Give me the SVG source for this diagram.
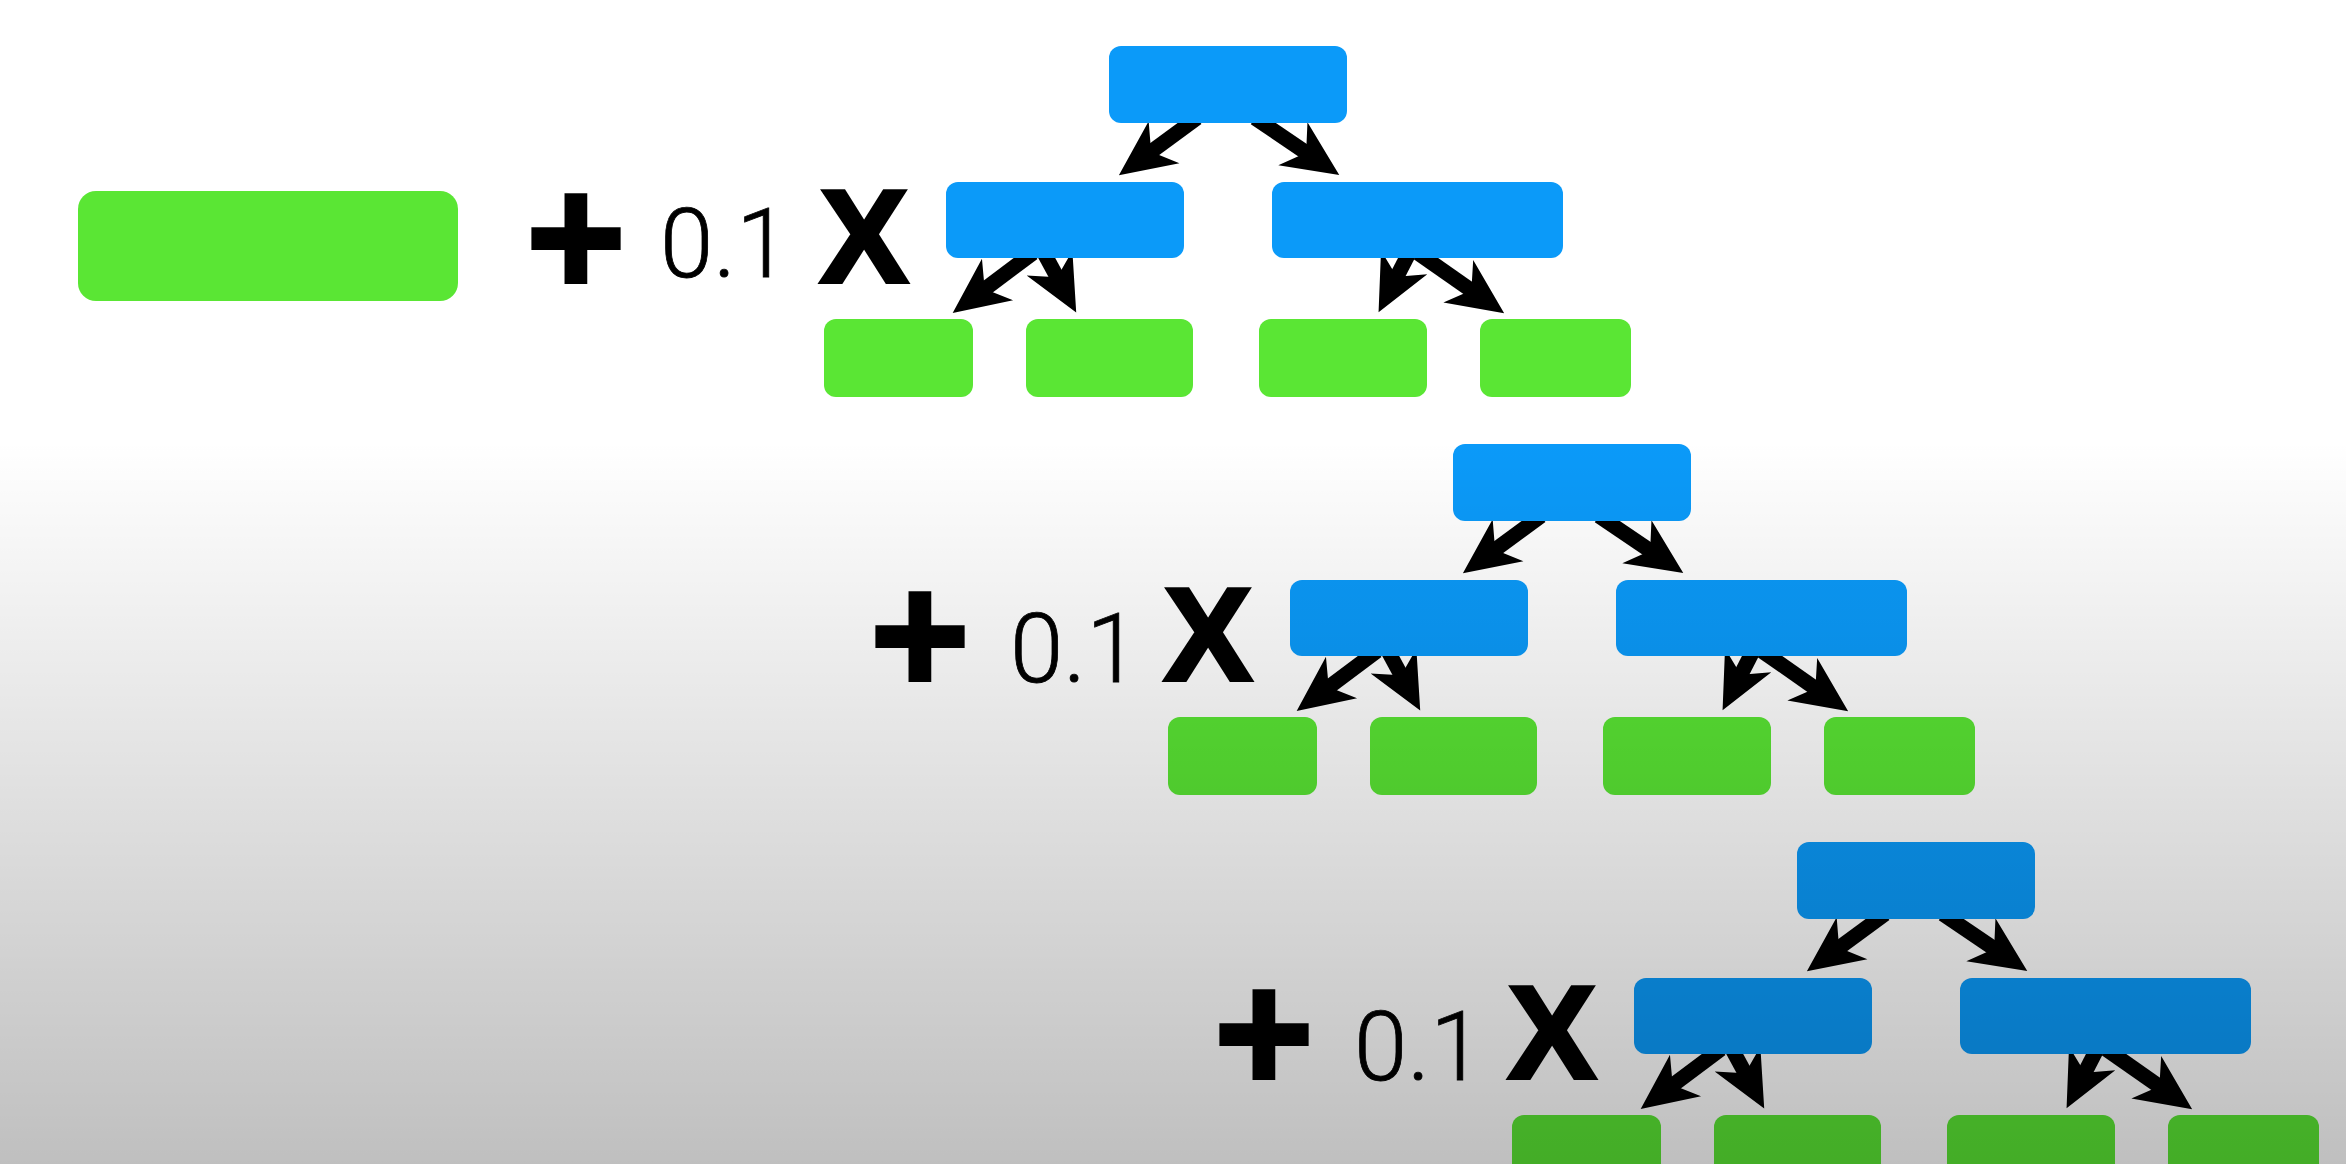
<svg xmlns="http://www.w3.org/2000/svg" width="2346" height="1164" viewBox="0 0 2346 1164">
  <defs>
    <style>
      .split { fill: #0b9af9; }
      .leaf { fill: #5ae634; }
      .conn line { stroke: #000; stroke-width: 15; stroke-linecap: butt; marker-end: url(#head); }
      .plus { font-family: "Liberation Sans", Arial, sans-serif; font-weight: 700; font-size: 170px; fill: #000; stroke: #000; stroke-width: 4px; }
      .rate { font-family: Roboto, "Open Sans", "Liberation Sans", sans-serif; font-weight: 300; font-size: 96px; fill: #000; stroke: #000; stroke-width: 0.8px; }
      .times { font-family: "Liberation Sans", Arial, sans-serif; font-weight: 700; font-size: 132px; fill: #000; stroke: #000; stroke-width: 4px; }
    </style>
    <marker id="head" markerUnits="userSpaceOnUse" markerWidth="60" markerHeight="56" viewBox="0 -28 60 56" refX="22" refY="0" orient="auto">
      <path d="M0,-26 L56,0 L0,26 L16,0 Z" fill="#000"/>
    </marker>
    <!-- shading that darkens the lower half of the slide -->
    <linearGradient id="shade" gradientUnits="userSpaceOnUse" x1="0" y1="440" x2="0" y2="1164">
      <stop offset="0" stop-color="#000" stop-opacity="0"/>
      <stop offset="1" stop-color="#000" stop-opacity="0.25"/>
    </linearGradient>
  </defs>

  <rect width="2346" height="1164" fill="#fff"/>

  <!-- initial prediction -->
  <g id="initial">
    <rect class="leaf" x="78" y="191" width="380" height="110" rx="18"/>
  </g>

  <!-- first tree, scaled by the learning rate -->
  <g id="tree1">
    <g id="t1-term">
      <text class="plus" x="576" y="295" text-anchor="middle">+</text>
      <text class="rate" x="660" y="277">0.1</text>
      <text class="times" x="820" y="282">X</text>
    </g>
    <g id="t1-connectors" class="conn">
      <line x1="1197" y1="118" x2="1146.3" y2="155.2"/>
      <line x1="1255" y1="118" x2="1311.1" y2="156"/>
      <line x1="1033" y1="253" x2="979.9" y2="292.7"/>
      <line x1="1044" y1="253" x2="1060" y2="282.5"/>
      <line x1="1409" y1="253" x2="1394.1" y2="282"/>
      <line x1="1418" y1="253" x2="1476.3" y2="293.8"/>
    </g>
    <g id="t1-root"><rect class="split" x="1109" y="46" width="238" height="77" rx="12"/></g>
    <g id="t1-left"><rect class="split" x="946" y="182" width="238" height="76" rx="12"/></g>
    <g id="t1-right"><rect class="split" x="1272" y="182" width="291" height="76" rx="12"/></g>
    <g id="t1-leaf1"><rect class="leaf" x="824" y="319" width="149" height="78" rx="12"/></g>
    <g id="t1-leaf2"><rect class="leaf" x="1026" y="319" width="167" height="78" rx="12"/></g>
    <g id="t1-leaf3"><rect class="leaf" x="1259" y="319" width="168" height="78" rx="12"/></g>
    <g id="t1-leaf4"><rect class="leaf" x="1480" y="319" width="151" height="78" rx="12"/></g>
  </g>

  <!-- second tree -->
  <g id="tree2" transform="translate(344,398)">
    <g id="t2-term">
      <text class="plus" x="576" y="295" text-anchor="middle">+</text>
      <text class="rate" x="666" y="284">0.1</text>
      <text class="times" x="820" y="282">X</text>
    </g>
    <g id="t2-connectors" class="conn">
      <line x1="1197" y1="118" x2="1146.3" y2="155.2"/>
      <line x1="1255" y1="118" x2="1311.1" y2="156"/>
      <line x1="1033" y1="253" x2="979.9" y2="292.7"/>
      <line x1="1044" y1="253" x2="1060" y2="282.5"/>
      <line x1="1409" y1="253" x2="1394.1" y2="282"/>
      <line x1="1418" y1="253" x2="1476.3" y2="293.8"/>
    </g>
    <g id="t2-root"><rect class="split" x="1109" y="46" width="238" height="77" rx="12"/></g>
    <g id="t2-left"><rect class="split" x="946" y="182" width="238" height="76" rx="12"/></g>
    <g id="t2-right"><rect class="split" x="1272" y="182" width="291" height="76" rx="12"/></g>
    <g id="t2-leaf1"><rect class="leaf" x="824" y="319" width="149" height="78" rx="12"/></g>
    <g id="t2-leaf2"><rect class="leaf" x="1026" y="319" width="167" height="78" rx="12"/></g>
    <g id="t2-leaf3"><rect class="leaf" x="1259" y="319" width="168" height="78" rx="12"/></g>
    <g id="t2-leaf4"><rect class="leaf" x="1480" y="319" width="151" height="78" rx="12"/></g>
  </g>

  <!-- third tree, running off the bottom edge -->
  <g id="tree3" transform="translate(688,796)">
    <g id="t3-term">
      <text class="plus" x="576" y="295" text-anchor="middle">+</text>
      <text class="rate" x="666" y="284">0.1</text>
      <text class="times" x="820" y="282">X</text>
    </g>
    <g id="t3-connectors" class="conn">
      <line x1="1197" y1="118" x2="1146.3" y2="155.2"/>
      <line x1="1255" y1="118" x2="1311.1" y2="156"/>
      <line x1="1033" y1="253" x2="979.9" y2="292.7"/>
      <line x1="1044" y1="253" x2="1060" y2="282.5"/>
      <line x1="1409" y1="253" x2="1394.1" y2="282"/>
      <line x1="1418" y1="253" x2="1476.3" y2="293.8"/>
    </g>
    <g id="t3-root"><rect class="split" x="1109" y="46" width="238" height="77" rx="12"/></g>
    <g id="t3-left"><rect class="split" x="946" y="182" width="238" height="76" rx="12"/></g>
    <g id="t3-right"><rect class="split" x="1272" y="182" width="291" height="76" rx="12"/></g>
    <g id="t3-leaf1"><rect class="leaf" x="824" y="319" width="149" height="78" rx="12"/></g>
    <g id="t3-leaf2"><rect class="leaf" x="1026" y="319" width="167" height="78" rx="12"/></g>
    <g id="t3-leaf3"><rect class="leaf" x="1259" y="319" width="168" height="78" rx="12"/></g>
    <g id="t3-leaf4"><rect class="leaf" x="1480" y="319" width="151" height="78" rx="12"/></g>
  </g>

  <rect width="2346" height="1164" fill="url(#shade)" pointer-events="none"/>
</svg>
